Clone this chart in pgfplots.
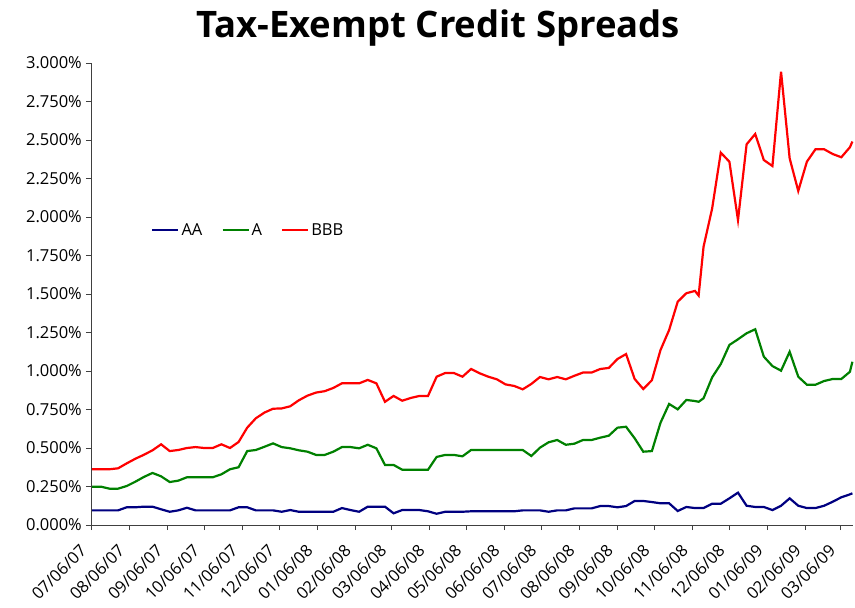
\documentclass[border=0pt]{standalone}
\usepackage{pgfplots}
\pgfplotsset{compat=1.18}
\usepackage{pgfplotstable}
\usepackage{fontspec}
\setmainfont{Open Sans}
\definecolor{aaC}{RGB}{0,0,128}
\definecolor{aC}{RGB}{0,128,0}
\definecolor{bbbC}{RGB}{255,0,0}
\pgfplotstableread{
day AA A BBB
1 0.095 0.249 0.362
8 0.095 0.249 0.362
15 0.095 0.236 0.362
22 0.095 0.236 0.368
29 0.115 0.253 0.40
36 0.115 0.281 0.43
43 0.119 0.312 0.456
50 0.119 0.338 0.485
57 0.102 0.316 0.524
64 0.086 0.279 0.48
71 0.095 0.288 0.487
78 0.112 0.31 0.50
85 0.095 0.31 0.506
92 0.095 0.31 0.50
99 0.095 0.31 0.50
106 0.095 0.329 0.524
113 0.095 0.362 0.50
120 0.115 0.375 0.539
127 0.115 0.48 0.632
134 0.095 0.487 0.693
141 0.095 0.508 0.73
148 0.095 0.53 0.755
155 0.086 0.506 0.757
162 0.097 0.498 0.771
169 0.086 0.485 0.81
176 0.086 0.476 0.84
183 0.086 0.455 0.86
190 0.086 0.455 0.869
197 0.086 0.476 0.89
204 0.11 0.506 0.92
211 0.097 0.506 0.92
218 0.086 0.498 0.92
225 0.119 0.521 0.942
232 0.119 0.498 0.92
239 0.119 0.39 0.80
246 0.076 0.39 0.838
253 0.097 0.359 0.807
260 0.097 0.359 0.825
267 0.097 0.359 0.838
274 0.089 0.359 0.838
281 0.073 0.442 0.963
288 0.086 0.455 0.987
295 0.086 0.455 0.987
302 0.086 0.446 0.963
309 0.089 0.487 1.013
316 0.089 0.487 0.985
323 0.089 0.487 0.963
330 0.089 0.487 0.946
337 0.089 0.487 0.913
344 0.089 0.487 0.903
351 0.095 0.487 0.881
358 0.095 0.448 0.916
365 0.095 0.502 0.961
372 0.086 0.537 0.946
379 0.095 0.552 0.961
386 0.095 0.521 0.946
393 0.108 0.528 0.969
400 0.108 0.552 0.99
407 0.108 0.552 0.99
414 0.123 0.567 1.013
421 0.123 0.58 1.02
428 0.115 0.632 1.078
435 0.123 0.638 1.11
442 0.156 0.563 0.948
449 0.156 0.476 0.883
456 0.149 0.48 0.94
463 0.141 0.664 1.136
470 0.141 0.786 1.266
477 0.091 0.751 1.45
484 0.117 0.812 1.505
491 0.11 0.805 1.52
494 0.11 0.80 1.49
498 0.11 0.823 1.807
505 0.138 0.959 2.056
512 0.138 1.045 2.418
519 0.173 1.169 2.359
526 0.21 1.206 1.98
533 0.125 1.245 2.472
540 0.117 1.271 2.539
547 0.117 1.093 2.37
554 0.097 1.032 2.331
561 0.125 1.002 2.944
568 0.173 1.125 2.381
575 0.125 0.963 2.169
582 0.11 0.911 2.359
589 0.11 0.911 2.44
596 0.125 0.935 2.44
603 0.151 0.948 2.409
610 0.18 0.948 2.388
617 0.199 0.995 2.453
619 0.206 1.06 2.49
}\spreads
\begin{document}
\begin{tikzpicture}
\path[use as bounding box] (-91pt,-83pt) rectangle (764pt,525pt);
\begin{axis}[
  at={(0pt,0pt)}, anchor=south west,
  scale only axis, width=762pt, height=462pt,
  xmin=0, xmax=619.5, ymin=0, ymax=3,
  axis x line*=bottom, axis y line*=left,
  axis line style={black!75, line width=0.8pt},
  tick style={black!75, line width=0.8pt},
  tick align=outside, major tick length=5pt,
  xtick={0,31,62,92,123,153,184,215,244,275,305,336,366,397,428,458,489,519,550,581,609},
  xticklabels={07/06/07,08/06/07,09/06/07,10/06/07,11/06/07,12/06/07,01/06/08,02/06/08,03/06/08,04/06/08,05/06/08,06/06/08,07/06/08,08/06/08,09/06/08,10/06/08,11/06/08,12/06/08,01/06/09,02/06/09,03/06/09},
  xticklabel style={xshift=-12pt, yshift=-12pt, rotate=45, anchor=north east, font=\fontsize{16.5}{18}\selectfont, inner sep=1pt},
  ytick={0,0.25,...,3.01},
  yticklabel={\pgfmathprintnumber[fixed,fixed zerofill,precision=3,assume math mode=true]{\tick}\%},
  yticklabel style={font=\fontsize{16.5}{18}\selectfont, inner sep=2pt, xshift=-2pt},
  legend columns=3,
  legend style={at={(rel axis cs:0.075,0.638)}, anchor=west, draw=none, fill=none,
    font=\fontsize{16.5}{18}\selectfont, /tikz/every even column/.append style={column sep=17pt}},
  legend image code/.code={\draw[#1, line width=2.2pt] (0pt,0pt) -- (26pt,0pt);},
  clip=false,
]
\addplot[aaC, line width=2.2pt] table[x=day, y=AA] {\spreads};
\addlegendentry{AA}
\addplot[aC, line width=2.2pt] table[x=day, y=A] {\spreads};
\addlegendentry{A}
\addplot[bbbC, line width=2.2pt] table[x=day, y=BBB] {\spreads};
\addlegendentry{BBB}
\end{axis}
\node[font=\fontsize{36.5}{40}\selectfont\bfseries] at (347pt,497pt) {Tax-Exempt Credit Spreads};
\end{tikzpicture}
\end{document}
